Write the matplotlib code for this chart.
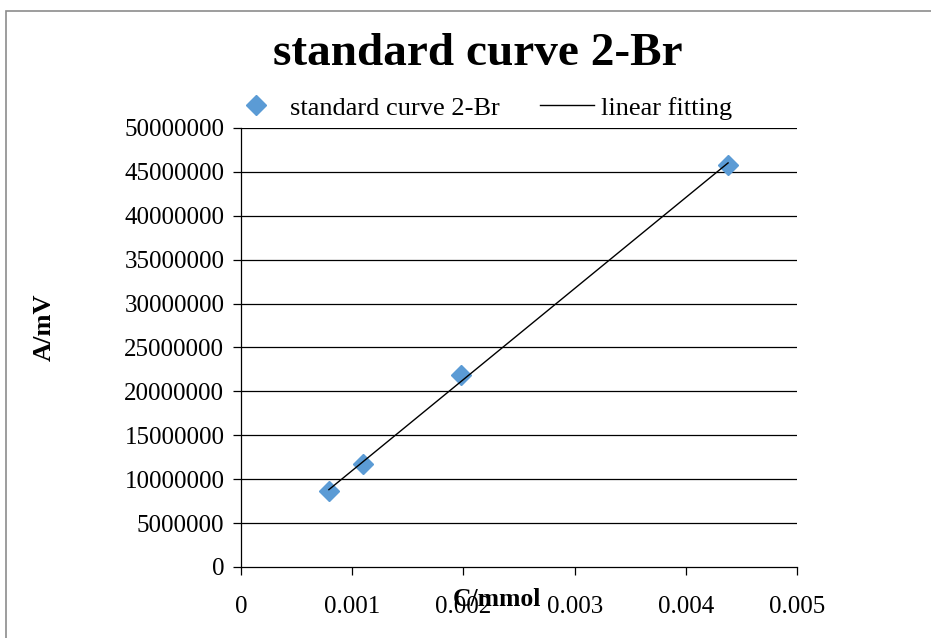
import numpy as np
import matplotlib
matplotlib.use('Agg')
import matplotlib.pyplot as plt
from matplotlib.patches import Rectangle

plt.rcParams['font.family'] = ['Liberation Serif', 'DejaVu Serif']

# data
conc = [0.00079, 0.0011, 0.00198, 0.00438]          # C/mmol
area = [8600000, 11700000, 21900000, 45800000]      # A/mV
yticks = [0, 5000000, 10000000, 15000000, 20000000, 25000000,
          30000000, 35000000, 40000000, 45000000, 50000000]
xticks = [0, 0.001, 0.002, 0.003, 0.004, 0.005]

# linear fit (trend line)
k, b = np.polyfit(conc, area, 1)
fit_x = np.array([min(conc), max(conc)])
fit_y = k * fit_x + b

fig = plt.figure(figsize=(9.31, 6.38), dpi=100)
ax = fig.add_axes([0.2589, 0.1113, 0.5972, 0.6881])

# outer chart border
fig.patches.append(Rectangle((6 / 931, -0.05), 1.0, (638 - 11) / 638 + 0.05,
                             transform=fig.transFigure, fill=False,
                             edgecolor='#8c8c8c', linewidth=1.2))

for t in yticks[1:]:
    ax.axhline(t, color='black', linewidth=0.9, zorder=1)

ax.plot(conc, area, linestyle='none', marker='D', markersize=10,
        color='#5b9bd5', label='standard curve 2-Br', zorder=3)
ax.plot(fit_x, fit_y, color='black', linewidth=1.0,
        label='linear fitting', zorder=4)

ax.set_xlim(0, 0.005)
ax.set_ylim(0, 50000000)
ax.set_xticks(xticks)
ax.set_xticklabels(['0', '0.001', '0.002', '0.003', '0.004', '0.005'])
ax.set_yticks(yticks)
ax.set_yticklabels([str(t) for t in yticks])
ax.tick_params(axis='both', labelsize=18, direction='out', length=6,
               width=0.9, colors='black')
ax.tick_params(axis='x', pad=15)
ax.tick_params(axis='y', pad=6)

for s in ['top', 'right']:
    ax.spines[s].set_visible(False)
for s in ['left', 'bottom']:
    ax.spines[s].set_linewidth(0.9)

fig.text(0.513, 0.915, 'standard curve 2-Br', ha='center', va='center',
         fontsize=34, fontweight='bold')
fig.text(0.534, 0.061, 'C/mmol', ha='center', va='center',
         fontsize=18.5, fontweight='bold')
fig.text(0.047, 0.487, 'A/mV', ha='center', va='center', rotation=90,
         fontsize=19, fontweight='bold')

fig.legend(loc='center', bbox_to_anchor=(0.516, 0.831), ncol=2,
           frameon=False, fontsize=19, handlelength=2.08,
           handletextpad=0.25, columnspacing=1.5, borderaxespad=0)

fig.savefig('out.png', dpi=100)
